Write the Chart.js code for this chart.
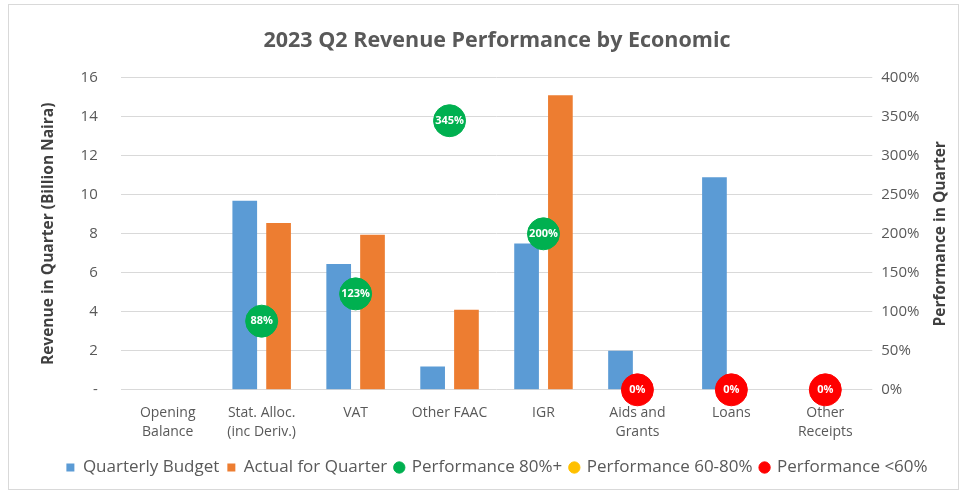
<!DOCTYPE html>
<html>
<head>
<meta charset="utf-8">
<script src="https://cdn.jsdelivr.net/npm/chart.js@4.4.0/dist/chart.umd.min.js"></script>
<style>
  html, body { margin: 0; padding: 0; background: #fff; }
  #wrap { position: absolute; left: 8px; top: 4px; width: 951px; height: 486px; border: 1px solid #d9d9d9; box-sizing: border-box; }
</style>
</head>
<body>
<div id="wrap"><canvas id="myChart"></canvas></div>
<script>
const categorias = [
  ["Opening", "Balance"],
  ["Stat. Alloc.", "(inc Deriv.)"],
  "VAT",
  "Other FAAC",
  "IGR",
  ["Aids and", "Grants"],
  "Loans",
  ["Other", "Receipts"],
];
const presupuesto = [0, 9.7, 6.45, 1.2, 7.5, 2.0, 10.9, 0];
const actual = [0, 8.55, 7.95, 4.1, 15.1, 0, 0, 0];
const perf80 = [null, 88, 123, 345, 200, null, null, null];
const perf60 = [null, null, null, null, null, null, null, null];
const perfBajo = [null, null, null, null, null, 0, 0, 0];
const ticksIzq = [0, 2, 4, 6, 8, 10, 12, 14, 16];
const ticksDer = [0, 50, 100, 150, 200, 250, 300, 350, 400];

const gris = "#595959";
const fuente = "'Open Sans', 'Liberation Sans', sans-serif";
Chart.defaults.font.family = fuente;
Chart.defaults.color = gris;

// escribe el porcentaje dentro de cada circulo y el titulo del eje derecho
const etiquetas = {
  id: "etiquetas",
  afterDatasetsDraw(chart) {
    const ctx = chart.ctx;
    ctx.save();
    ctx.font = "bold 11px " + fuente;
    ctx.fillStyle = "#ffffff";
    ctx.textAlign = "center";
    ctx.textBaseline = "middle";
    chart.data.datasets.forEach((ds, i) => {
      if (ds.type !== "line") return;
      const meta = chart.getDatasetMeta(i);
      meta.data.forEach((pt, j) => {
        const v = ds.data[j];
        if (v === null || v === undefined) return;
        ctx.fillText(Math.round(v) + "%", pt.x, pt.y);
      });
    });
    ctx.restore();
  },
  afterDraw(chart) {
    const ctx = chart.ctx;
    const eje = chart.scales.y1;
    ctx.save();
    ctx.translate(eje.right - 14, (eje.top + eje.bottom) / 2);
    ctx.rotate(-Math.PI / 2);
    ctx.font = "bold 15.5px " + fuente;
    ctx.fillStyle = "#404040";
    ctx.textAlign = "center";
    ctx.textBaseline = "middle";
    ctx.fillText("Performance in Quarter", 0, 0);
    ctx.restore();
  },
};

const grafica = document.getElementById("myChart").getContext("2d");

const puntos = (label, data, color) => ({
  type: "line",
  label: label,
  data: data,
  yAxisID: "y1",
  showLine: false,
  clip: false,
  pointStyle: "circle",
  pointRadius: 16,
  pointHoverRadius: 16,
  pointBackgroundColor: color,
  pointBorderColor: color,
  backgroundColor: color,
  borderColor: color,
  order: 1,
});

const myChart = new Chart(grafica, {
  type: "bar",
  data: {
    labels: categorias,
    datasets: [
      {
        label: "Quarterly Budget",
        data: presupuesto,
        backgroundColor: "#5B9BD5",
        pointStyle: "rect",
        categoryPercentage: 0.72,
        barPercentage: 0.73,
        order: 2,
      },
      {
        label: "Actual for Quarter",
        data: actual,
        backgroundColor: "#ED7D31",
        pointStyle: "rect",
        categoryPercentage: 0.72,
        barPercentage: 0.73,
        order: 2,
      },
      puntos("Performance 80%+", perf80, "#00B050"),
      puntos("Performance 60-80%", perf60, "#FFC000"),
      puntos("Performance <60%", perfBajo, "#FF0000"),
    ],
  },
  options: {
    responsive: true,
    maintainAspectRatio: false,
    animation: false,
    layout: { padding: { left: 30, right: 3, top: 2, bottom: 3 } },
    plugins: {
      title: {
        display: true,
        text: "2023 Q2 Revenue Performance by Economic",
        font: { size: 21.5, weight: "bold" },
        color: gris,
        padding: { top: 21, bottom: 24 },
      },
      legend: {
        position: "bottom",
        labels: {
          usePointStyle: true,
          boxWidth: 8,
          boxHeight: 8,
          padding: 8,
          font: { size: 17 },
          color: gris,
          sort: (a, b) => a.datasetIndex - b.datasetIndex,
        },
      },
      tooltip: { enabled: false },
    },
    scales: {
      x: {
        grid: { display: false },
        border: { display: false },
        ticks: { maxRotation: 0, font: { size: 14, lineHeight: 1.4 }, color: gris, padding: 5 },
        afterFit: (escala) => { escala.height += 4; },
      },
      y: {
        position: "left",
        min: 0,
        max: 16,
        afterBuildTicks: (axis) => { axis.ticks = ticksIzq.map((v) => ({ value: v })); },
        ticks: {
          font: { size: 15 },
          color: gris,
          padding: 23,
          callback: (v) => (v === 0 ? "-" : v),
        },
        grid: { color: "#d9d9d9", drawTicks: false },
        border: { display: false },
        title: {
          display: true,
          text: "Revenue in Quarter (Billion Naira)",
          font: { size: 15.5, weight: "bold" },
          color: "#404040",
          padding: { top: 0, bottom: 0 },
        },
      },
      y1: {
        position: "right",
        min: 0,
        max: 400,
        afterBuildTicks: (axis) => { axis.ticks = ticksDer.map((v) => ({ value: v })); },
        ticks: {
          font: { size: 15 },
          color: gris,
          padding: 9,
          callback: (v) => v + "%",
        },
        grid: { display: false, drawTicks: false },
        border: { display: false },
        title: {
          display: true,
          text: "Performance in Quarter",
          font: { size: 15.5, weight: "bold" },
          color: "rgba(0,0,0,0)",
          padding: { top: 4, bottom: 4 },
        },
      },
    },
  },
  plugins: [etiquetas],
});
</script>
</body>
</html>
